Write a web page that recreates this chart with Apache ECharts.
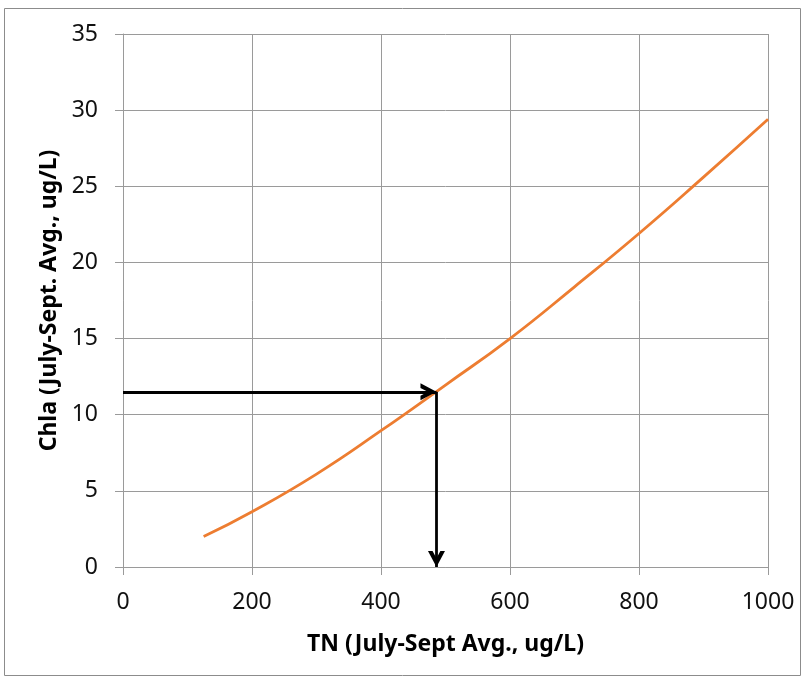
<!DOCTYPE html>
<html>
<head>
<meta charset="utf-8">
<script src="https://cdn.jsdelivr.net/npm/echarts@6/dist/echarts.min.js"></script>
<style>html,body{margin:0;padding:0;background:#fff}#c{width:807px;height:677px}</style>
</head>
<body>
<div id="c"></div>
<script>
// Data
var tnValues = [125, 200, 300, 400, 500, 600, 700, 800, 900, 1000];
var chlaValues = [2.0, 3.63, 6.1, 8.95, 11.95, 15.0, 18.4, 21.9, 25.6, 29.4];
var targetTN = 486;
var targetChla = 11.5;
var xTitle = 'TN (July-Sept Avg., ug/L)';
var yTitle = 'Chla (July-Sept. Avg., ug/L)';

var font = '"Noto Sans", sans-serif';
// open chevron; tip sits at the centre of the bounding box (dummy point extends box)
var chev = 'path://M5,0 L5.01,0 Z M0,20 L5,10 L10,20 L7.3,20 L5,15.4 L2.7,20 Z';

var curve = tnValues.map(function (x, i) { return [x, chlaValues[i]]; });

var chart = echarts.init(document.getElementById('c'), null, {renderer: 'canvas'});
chart.setOption({
  animation: false,
  graphic: [{
    type: 'rect', shape: {x: 4.5, y: 8.5, width: 796, height: 667},
    style: {fill: 'none', stroke: '#8c8c8c', lineWidth: 1}, z: -1
  }],
  grid: {left: 123, right: 39, top: 34, bottom: 110},
  xAxis: {
    type: 'value', min: 0, max: 1000, interval: 200,
    name: xTitle, nameLocation: 'middle', nameGap: 66,
    nameTextStyle: {fontFamily: font, fontSize: 23, fontWeight: 'bold', color: '#000'},
    axisLine: {show: true, lineStyle: {color: '#9a9a9a', width: 1}},
    axisTick: {show: true, length: 8, lineStyle: {color: '#9a9a9a'}},
    axisLabel: {fontFamily: font, fontSize: 23, color: '#111', margin: 24,
      formatter: function (v) { return String(v); }},
    splitLine: {show: true, lineStyle: {color: '#9a9a9a', width: 1}}
  },
  yAxis: {
    type: 'value', min: 0, max: 35, interval: 5,
    name: yTitle, nameLocation: 'middle', nameGap: 62, nameRotate: 90,
    nameTextStyle: {fontFamily: font, fontSize: 23, fontWeight: 'bold', color: '#000'},
    axisLine: {show: true, lineStyle: {color: '#9a9a9a', width: 1}},
    axisTick: {show: true, length: 8, lineStyle: {color: '#9a9a9a'}},
    axisLabel: {fontFamily: font, fontSize: 23, color: '#111', margin: 25},
    splitLine: {show: true, lineStyle: {color: '#9a9a9a', width: 1}}
  },
  series: [{
    type: 'line', data: curve, smooth: 0.5, showSymbol: false,
    lineStyle: {color: '#ED7D31', width: 2.8}, z: 3
  }, {
    type: 'line', data: [], z: 4,
    markLine: {
      silent: true, animation: false,
      symbol: ['none', chev], symbolSize: [17, 32],
      label: {show: false},
      lineStyle: {color: '#000', width: 2.8, type: 'solid'},
      data: [
        [{coord: [0, targetChla]}, {coord: [targetTN, targetChla]}],
        [{coord: [targetTN, targetChla]}, {coord: [targetTN, 0]}]
      ]
    }
  }]
});
</script>
</body>
</html>
